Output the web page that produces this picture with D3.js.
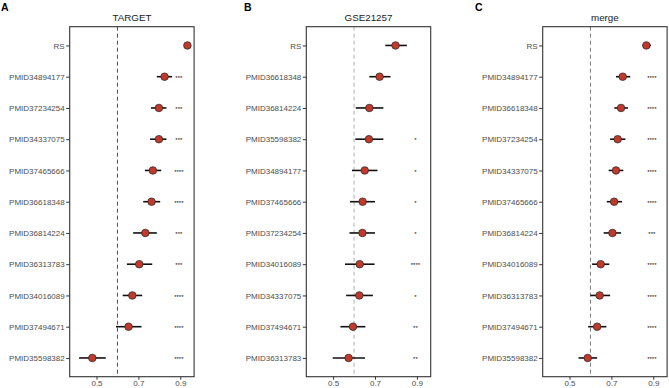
<!DOCTYPE html>
<html>
<head>
<meta charset="utf-8">
<script src="https://cdn.jsdelivr.net/npm/d3@7"></script>
<style>
  body { margin: 0; background: #fff; }
  text { font-family: Arial, "Liberation Sans", sans-serif; }
</style>
</head>
<body>
<div id="chart"></div>
<script>
// ---- data ----
var targetLabels = ["RS", "PMID34894177", "PMID37234254", "PMID34337075", "PMID37465666", "PMID36618348",
  "PMID36814224", "PMID36313783", "PMID34016089", "PMID37494671", "PMID35598382"];
var targetEst = [0.934, 0.825, 0.798, 0.798, 0.769, 0.763, 0.733, 0.704, 0.671, 0.653, 0.480];
var targetLo  = [0.925, 0.788, 0.760, 0.756, 0.731, 0.723, 0.675, 0.645, 0.625, 0.593, 0.417];
var targetHi  = [0.943, 0.861, 0.834, 0.834, 0.809, 0.804, 0.788, 0.766, 0.718, 0.715, 0.544];
var targetSig = ["", "***", "***", "***", "****", "****", "***", "***", "****", "****", "****"];

var gseLabels = ["RS", "PMID36618348", "PMID36814224", "PMID35598382", "PMID34894177", "PMID37465666",
  "PMID37234254", "PMID34016089", "PMID34337075", "PMID37494671", "PMID36313783"];
var gseEst = [0.798, 0.722, 0.673, 0.671, 0.651, 0.641, 0.640, 0.627, 0.625, 0.595, 0.574];
var gseLo  = [0.749, 0.673, 0.608, 0.606, 0.590, 0.581, 0.578, 0.557, 0.562, 0.535, 0.498];
var gseHi  = [0.852, 0.774, 0.740, 0.740, 0.712, 0.700, 0.700, 0.698, 0.690, 0.654, 0.652];
var gseSig = ["", "", "", "*", "*", "*", "*", "****", "*", "**", "**"];

var mergeLabels = ["RS", "PMID34894177", "PMID36618348", "PMID37234254", "PMID34337075", "PMID37465666",
  "PMID36814224", "PMID34016089", "PMID36313783", "PMID37494671", "PMID35598382"];
var mergeEst = [0.867, 0.754, 0.746, 0.730, 0.722, 0.713, 0.705, 0.649, 0.644, 0.632, 0.587];
var mergeLo  = [0.848, 0.722, 0.714, 0.694, 0.687, 0.678, 0.663, 0.608, 0.600, 0.589, 0.543];
var mergeHi  = [0.889, 0.790, 0.779, 0.767, 0.757, 0.751, 0.746, 0.690, 0.694, 0.676, 0.632];
var mergeSig = ["", "****", "****", "****", "****", "****", "***", "****", "****", "****", "****"];

var xTicks = [0.5, 0.7, 0.9];
var xDomain = [0.372, 0.966];
var refValue = 0.6;
var sigPos = 0.893;

var panels = [
  {tag: "A", title: "TARGET", labels: targetLabels, est: targetEst, lo: targetLo, hi: targetHi, sig: targetSig,
   left: 69.7, tagX: 1, refColor: "#4d4d4d"},
  {tag: "B", title: "GSE21257", labels: gseLabels, est: gseEst, lo: gseLo, hi: gseHi, sig: gseSig,
   left: 306.3, tagX: 244, refColor: "#b0b0b0"},
  {tag: "C", title: "merge", labels: mergeLabels, est: mergeEst, lo: mergeLo, hi: mergeHi, sig: mergeSig,
   left: 542.7, tagX: 475, refColor: "#7a7a7a"}
];

var W = 669, H = 388;
var plotTop = 26.7, plotBottom = 376.7, plotW = 124.4;
var plotH = plotBottom - plotTop;

var svg = d3.select("#chart").append("svg")
  .attr("width", W)
  .attr("height", H);

panels.forEach(function(p) {
  var x = d3.scaleLinear().domain(xDomain).range([0, plotW]);
  var y = d3.scalePoint().domain(p.labels).range([0, plotH]).padding(0.6);

  var g = svg.append("g")
    .attr("transform", "translate(" + p.left + "," + plotTop + ")");

  // panel tag + title
  svg.append("text")
    .attr("x", p.tagX)
    .attr("y", 11)
    .attr("font-size", 10.5)
    .attr("font-weight", "bold")
    .attr("fill", "#000")
    .text(p.tag);

  svg.append("text")
    .attr("x", p.left + plotW / 2)
    .attr("y", 20.5)
    .attr("text-anchor", "middle")
    .attr("font-size", 9.8)
    .attr("fill", "#1a1a1a")
    .text(p.title);

  // reference line
  g.append("line")
    .attr("x1", x(refValue)).attr("x2", x(refValue))
    .attr("y1", 0).attr("y2", plotH)
    .attr("stroke", p.refColor)
    .attr("stroke-width", 1)
    .attr("stroke-dasharray", "4,3");

  var rows = p.labels.map(function(d, i) {
    return {label: d, est: p.est[i], lo: p.lo[i], hi: p.hi[i], sig: p.sig[i]};
  });

  // CI lines
  g.selectAll(".ci").data(rows).enter().append("line")
    .attr("class", "ci")
    .attr("x1", function(d) { return x(d.lo); })
    .attr("x2", function(d) { return x(d.hi); })
    .attr("y1", function(d) { return y(d.label); })
    .attr("y2", function(d) { return y(d.label); })
    .attr("stroke", "#111")
    .attr("stroke-width", 1.6);

  // points
  g.selectAll(".pt").data(rows).enter().append("circle")
    .attr("class", "pt")
    .attr("cx", function(d) { return x(d.est); })
    .attr("cy", function(d) { return y(d.label); })
    .attr("r", 3.8)
    .attr("fill", "#c0392b")
    .attr("stroke", "#222")
    .attr("stroke-width", 0.7);

  // significance stars
  g.selectAll(".sig").data(rows).enter().append("text")
    .attr("class", "sig")
    .attr("x", x(sigPos))
    .attr("y", function(d) { return y(d.label) + 3.2; })
    .attr("text-anchor", "middle")
    .attr("font-size", 6)
    .attr("fill", "#111")
    .text(function(d) { return d.sig; });

  // panel border
  g.append("rect")
    .attr("x", 0).attr("y", 0)
    .attr("width", plotW).attr("height", plotH)
    .attr("fill", "none")
    .attr("stroke", "#333")
    .attr("stroke-width", 1.1);

  // axes
  var yAxis = g.append("g")
    .call(d3.axisLeft(y).tickSize(3.5).tickPadding(1.5));
  yAxis.select(".domain").remove();
  yAxis.selectAll("line").attr("stroke", "#333");
  yAxis.selectAll("text").attr("font-size", 8).attr("fill", "#4d4d4d")
    .style("font-family", "Arial, 'Liberation Sans', sans-serif");

  var xAxis = g.append("g")
    .attr("transform", "translate(0," + plotH + ")")
    .call(d3.axisBottom(x).tickValues(xTicks).tickFormat(d3.format(".1f")).tickSize(3).tickPadding(0.5));
  xAxis.select(".domain").remove();
  xAxis.selectAll("line").attr("stroke", "#333");
  xAxis.selectAll("text").attr("font-size", 8).attr("fill", "#4d4d4d")
    .style("font-family", "Arial, 'Liberation Sans', sans-serif");
});
</script>
</body>
</html>
